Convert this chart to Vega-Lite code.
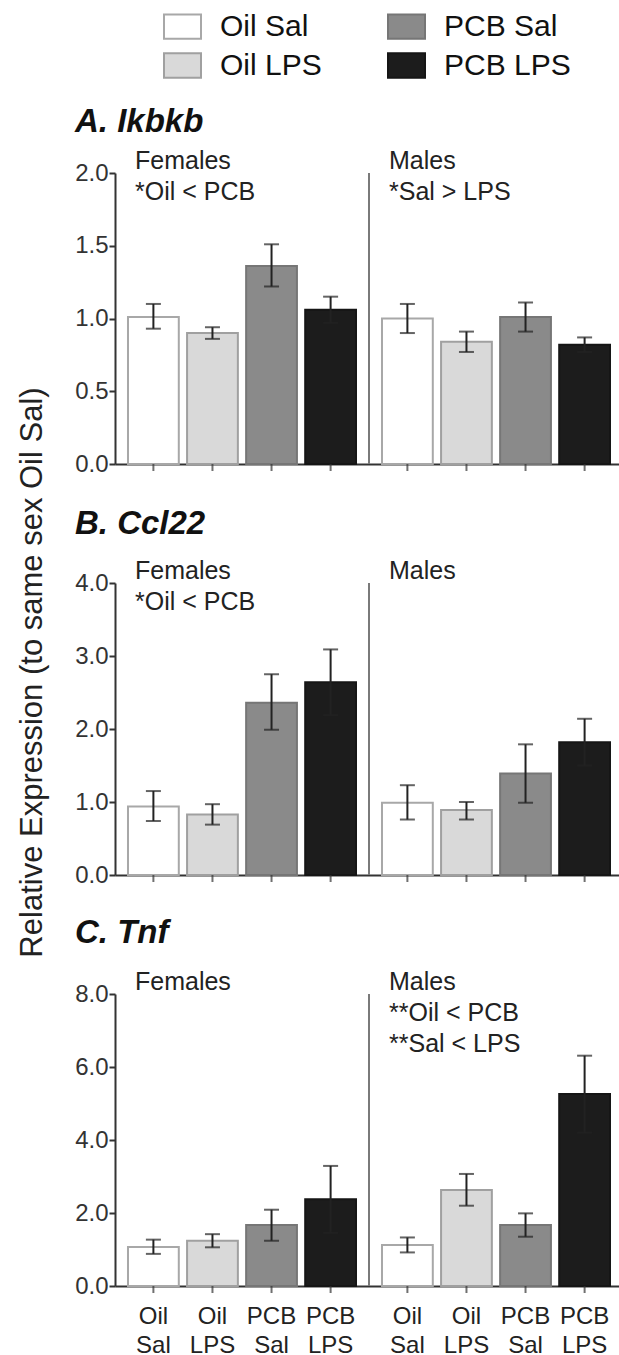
{
  "$schema": "https://vega.github.io/schema/vega-lite/v6.json",
  "padding": {"left": 15, "top": 7, "right": 0, "bottom": 0},
  "bounds": "flush",
  "spacing": 119,
  "resolve": {"scale": {"xOffset": "independent"}},
  "datasets": {
    "bars": [
      {"panel": "A", "sex": "Females", "group": "Oil Sal", "mean": 1.01, "lo": 0.93, "hi": 1.10},
      {"panel": "A", "sex": "Females", "group": "Oil LPS", "mean": 0.90, "lo": 0.86, "hi": 0.94},
      {"panel": "A", "sex": "Females", "group": "PCB Sal", "mean": 1.36, "lo": 1.22, "hi": 1.51},
      {"panel": "A", "sex": "Females", "group": "PCB LPS", "mean": 1.06, "lo": 0.97, "hi": 1.15},
      {"panel": "A", "sex": "Males", "group": "Oil Sal", "mean": 1.00, "lo": 0.90, "hi": 1.10},
      {"panel": "A", "sex": "Males", "group": "Oil LPS", "mean": 0.84, "lo": 0.77, "hi": 0.91},
      {"panel": "A", "sex": "Males", "group": "PCB Sal", "mean": 1.01, "lo": 0.91, "hi": 1.11},
      {"panel": "A", "sex": "Males", "group": "PCB LPS", "mean": 0.82, "lo": 0.77, "hi": 0.87},
      {"panel": "B", "sex": "Females", "group": "Oil Sal", "mean": 0.94, "lo": 0.74, "hi": 1.15},
      {"panel": "B", "sex": "Females", "group": "Oil LPS", "mean": 0.83, "lo": 0.69, "hi": 0.97},
      {"panel": "B", "sex": "Females", "group": "PCB Sal", "mean": 2.36, "lo": 1.99, "hi": 2.75},
      {"panel": "B", "sex": "Females", "group": "PCB LPS", "mean": 2.64, "lo": 2.19, "hi": 3.09},
      {"panel": "B", "sex": "Males", "group": "Oil Sal", "mean": 0.99, "lo": 0.76, "hi": 1.23},
      {"panel": "B", "sex": "Males", "group": "Oil LPS", "mean": 0.89, "lo": 0.76, "hi": 1.00},
      {"panel": "B", "sex": "Males", "group": "PCB Sal", "mean": 1.39, "lo": 0.99, "hi": 1.79},
      {"panel": "B", "sex": "Males", "group": "PCB LPS", "mean": 1.82, "lo": 1.50, "hi": 2.14},
      {"panel": "C", "sex": "Females", "group": "Oil Sal", "mean": 1.07, "lo": 0.88, "hi": 1.27},
      {"panel": "C", "sex": "Females", "group": "Oil LPS", "mean": 1.24, "lo": 1.06, "hi": 1.42},
      {"panel": "C", "sex": "Females", "group": "PCB Sal", "mean": 1.67, "lo": 1.24, "hi": 2.09},
      {"panel": "C", "sex": "Females", "group": "PCB LPS", "mean": 2.38, "lo": 1.46, "hi": 3.29},
      {"panel": "C", "sex": "Males", "group": "Oil Sal", "mean": 1.12, "lo": 0.92, "hi": 1.33},
      {"panel": "C", "sex": "Males", "group": "Oil LPS", "mean": 2.63, "lo": 2.20, "hi": 3.07},
      {"panel": "C", "sex": "Males", "group": "PCB Sal", "mean": 1.67, "lo": 1.35, "hi": 1.99},
      {"panel": "C", "sex": "Males", "group": "PCB LPS", "mean": 5.26, "lo": 4.20, "hi": 6.31}
    ],
    "notes": [
      {"panel": "A", "sex": "Females", "text": "Females\n*Oil < PCB"},
      {"panel": "A", "sex": "Males", "text": "Males\n*Sal > LPS"},
      {"panel": "B", "sex": "Females", "text": "Females\n*Oil < PCB"},
      {"panel": "B", "sex": "Males", "text": "Males"},
      {"panel": "C", "sex": "Females", "text": "Females"},
      {"panel": "C", "sex": "Males", "text": "Males\n**Oil < PCB\n**Sal < LPS"}
    ]
  },
  "vconcat": [
    {
      "width": 508, "height": 291,
      "title": {"text": "A. Ikbkb", "dx": -40, "offset": 10},
      "data": {"name": "bars"},
      "transform": [{"filter": "datum.panel === 'A'"}],
      "layer": [
        {"mark": {"type": "bar", "strokeWidth": 2},
         "encoding": {
           "x": {"field": "sex", "type": "nominal", "scale": {"domain": ["Females", "Males"], "paddingInner": 0, "paddingOuter": 0}, "axis": {"title": null, "labels": false, "ticks": false}},
           "xOffset": {"field": "group", "type": "nominal", "scale": {"domain": ["Oil Sal", "Oil LPS", "PCB Sal", "PCB LPS"], "paddingInner": 0.14, "paddingOuter": 0.22}},
           "y": {"field": "mean", "type": "quantitative", "scale": {"domain": [0, 2], "nice": false},
                 "axis": {"values": [0, 0.5, 1, 1.5, 2], "format": ".1f", "title": "Relative Expression (to same sex Oil Sal)", "titleFontSize": 31, "titleFontWeight": "normal", "titleColor": "#222", "titleAngle": 270, "titleX": -74, "titleY": 499, "titleAlign": "center", "titleBaseline": "alphabetic"}},
           "color": {"field": "group", "type": "nominal", "scale": {"domain": ["Oil Sal", "Oil LPS", "PCB Sal", "PCB LPS"], "range": ["#ffffff", "#d9d9d9", "#8a8a8a", "#1c1c1c"]},
                     "legend": {"title": null, "orient": "none", "legendX": 48, "legendY": -166, "columns": 2, "symbolType": "M-1,-0.66L1,-0.66L1,0.66L-1,0.66Z", "symbolSize": 1369, "symbolStrokeWidth": 2, "labelFontSize": 30, "labelColor": "#111", "labelOffset": 18, "columnPadding": 62, "rowPadding": 3, "padding": 0}},
           "stroke": {"field": "group", "type": "nominal", "scale": {"domain": ["Oil Sal", "Oil LPS", "PCB Sal", "PCB LPS"], "range": ["#a8a8a8", "#a0a0a0", "#767676", "#151515"]},
                     "legend": {"title": null, "orient": "none", "legendX": 48, "legendY": -166, "columns": 2, "symbolType": "M-1,-0.66L1,-0.66L1,0.66L-1,0.66Z", "symbolSize": 1369, "symbolStrokeWidth": 2, "labelFontSize": 30, "labelColor": "#111", "labelOffset": 18, "columnPadding": 62, "rowPadding": 3, "padding": 0}}
         }},
        {"mark": {"type": "rule", "color": "#222", "strokeWidth": 2},
         "encoding": {"x": {"field": "sex", "type": "nominal"}, "xOffset": {"field": "group", "type": "nominal"}, "y": {"field": "lo", "type": "quantitative"}, "y2": {"field": "hi"}}},
        {"mark": {"type": "tick", "orient": "horizontal", "size": 15, "thickness": 2, "color": "#222"},
         "encoding": {"x": {"field": "sex", "type": "nominal"}, "xOffset": {"field": "group", "type": "nominal"}, "y": {"field": "hi", "type": "quantitative"}}},
        {"mark": {"type": "tick", "orient": "horizontal", "size": 15, "thickness": 2, "color": "#222"},
         "encoding": {"x": {"field": "sex", "type": "nominal"}, "xOffset": {"field": "group", "type": "nominal"}, "y": {"field": "lo", "type": "quantitative"}}},
        {"mark": {"type": "tick", "orient": "vertical", "size": 7, "thickness": 2, "color": "#333", "yOffset": 3.5},
         "encoding": {"x": {"field": "sex", "type": "nominal"}, "xOffset": {"field": "group", "type": "nominal"}, "y": {"datum": 0, "type": "quantitative"}}},
        {"transform": [{"filter": "datum.sex === 'Males' && datum.group === 'Oil Sal'"}],
         "mark": {"type": "rule", "color": "#7a7a7a", "strokeWidth": 2},
         "encoding": {"x": {"field": "sex", "type": "nominal", "bandPosition": 0}}},
        {"data": {"name": "notes"}, "transform": [{"filter": "datum.panel === 'A'"}],
         "mark": {"type": "text", "align": "left", "baseline": "alphabetic", "dx": 20, "dy": -4, "lineBreak": "\n", "lineHeight": 31, "fontSize": 25, "color": "#222"},
         "encoding": {"x": {"field": "sex", "type": "nominal", "bandPosition": 0}, "y": {"datum": 2, "type": "quantitative"}, "text": {"field": "text"}}}
      ]
    },
    {
      "width": 508, "height": 292,
      "title": {"text": "B. Ccl22", "dx": -40, "offset": 18},
      "data": {"name": "bars"},
      "transform": [{"filter": "datum.panel === 'B'"}],
      "layer": [
        {"mark": {"type": "bar", "strokeWidth": 2},
         "encoding": {
           "x": {"field": "sex", "type": "nominal", "scale": {"domain": ["Females", "Males"], "paddingInner": 0, "paddingOuter": 0}, "axis": {"title": null, "labels": false, "ticks": false}},
           "xOffset": {"field": "group", "type": "nominal", "scale": {"domain": ["Oil Sal", "Oil LPS", "PCB Sal", "PCB LPS"], "paddingInner": 0.14, "paddingOuter": 0.22}},
           "y": {"field": "mean", "type": "quantitative", "scale": {"domain": [0, 4], "nice": false},
                 "axis": {"values": [0, 1, 2, 3, 4], "format": ".1f", "title": null}},
           "color": {"field": "group", "type": "nominal", "scale": {"domain": ["Oil Sal", "Oil LPS", "PCB Sal", "PCB LPS"], "range": ["#ffffff", "#d9d9d9", "#8a8a8a", "#1c1c1c"]},
                     "legend": {"title": null, "orient": "none", "legendX": 48, "legendY": -166, "columns": 2, "symbolType": "M-1,-0.66L1,-0.66L1,0.66L-1,0.66Z", "symbolSize": 1369, "symbolStrokeWidth": 2, "labelFontSize": 30, "labelColor": "#111", "labelOffset": 18, "columnPadding": 62, "rowPadding": 3, "padding": 0}},
           "stroke": {"field": "group", "type": "nominal", "scale": {"domain": ["Oil Sal", "Oil LPS", "PCB Sal", "PCB LPS"], "range": ["#a8a8a8", "#a0a0a0", "#767676", "#151515"]},
                     "legend": {"title": null, "orient": "none", "legendX": 48, "legendY": -166, "columns": 2, "symbolType": "M-1,-0.66L1,-0.66L1,0.66L-1,0.66Z", "symbolSize": 1369, "symbolStrokeWidth": 2, "labelFontSize": 30, "labelColor": "#111", "labelOffset": 18, "columnPadding": 62, "rowPadding": 3, "padding": 0}}
         }},
        {"mark": {"type": "rule", "color": "#222", "strokeWidth": 2},
         "encoding": {"x": {"field": "sex", "type": "nominal"}, "xOffset": {"field": "group", "type": "nominal"}, "y": {"field": "lo", "type": "quantitative"}, "y2": {"field": "hi"}}},
        {"mark": {"type": "tick", "orient": "horizontal", "size": 15, "thickness": 2, "color": "#222"},
         "encoding": {"x": {"field": "sex", "type": "nominal"}, "xOffset": {"field": "group", "type": "nominal"}, "y": {"field": "hi", "type": "quantitative"}}},
        {"mark": {"type": "tick", "orient": "horizontal", "size": 15, "thickness": 2, "color": "#222"},
         "encoding": {"x": {"field": "sex", "type": "nominal"}, "xOffset": {"field": "group", "type": "nominal"}, "y": {"field": "lo", "type": "quantitative"}}},
        {"mark": {"type": "tick", "orient": "vertical", "size": 7, "thickness": 2, "color": "#333", "yOffset": 3.5},
         "encoding": {"x": {"field": "sex", "type": "nominal"}, "xOffset": {"field": "group", "type": "nominal"}, "y": {"datum": 0, "type": "quantitative"}}},
        {"transform": [{"filter": "datum.sex === 'Males' && datum.group === 'Oil Sal'"}],
         "mark": {"type": "rule", "color": "#7a7a7a", "strokeWidth": 2},
         "encoding": {"x": {"field": "sex", "type": "nominal", "bandPosition": 0}}},
        {"data": {"name": "notes"}, "transform": [{"filter": "datum.panel === 'B'"}],
         "mark": {"type": "text", "align": "left", "baseline": "alphabetic", "dx": 20, "dy": -4, "lineBreak": "\n", "lineHeight": 31, "fontSize": 25, "color": "#222"},
         "encoding": {"x": {"field": "sex", "type": "nominal", "bandPosition": 0}, "y": {"datum": 4, "type": "quantitative"}, "text": {"field": "text"}}}
      ]
    },
    {
      "width": 508, "height": 292,
      "title": {"text": "C. Tnf", "dx": -40, "offset": 20},
      "data": {"name": "bars"},
      "transform": [{"filter": "datum.panel === 'C'"}],
      "layer": [
        {"mark": {"type": "bar", "strokeWidth": 2},
         "encoding": {
           "x": {"field": "sex", "type": "nominal", "scale": {"domain": ["Females", "Males"], "paddingInner": 0, "paddingOuter": 0}, "axis": {"title": null, "labels": false, "ticks": false}},
           "xOffset": {"field": "group", "type": "nominal", "scale": {"domain": ["Oil Sal", "Oil LPS", "PCB Sal", "PCB LPS"], "paddingInner": 0.14, "paddingOuter": 0.22}},
           "y": {"field": "mean", "type": "quantitative", "scale": {"domain": [0, 8], "nice": false},
                 "axis": {"values": [0, 2, 4, 6, 8], "format": ".1f", "title": null}},
           "color": {"field": "group", "type": "nominal", "scale": {"domain": ["Oil Sal", "Oil LPS", "PCB Sal", "PCB LPS"], "range": ["#ffffff", "#d9d9d9", "#8a8a8a", "#1c1c1c"]},
                     "legend": {"title": null, "orient": "none", "legendX": 48, "legendY": -166, "columns": 2, "symbolType": "M-1,-0.66L1,-0.66L1,0.66L-1,0.66Z", "symbolSize": 1369, "symbolStrokeWidth": 2, "labelFontSize": 30, "labelColor": "#111", "labelOffset": 18, "columnPadding": 62, "rowPadding": 3, "padding": 0}},
           "stroke": {"field": "group", "type": "nominal", "scale": {"domain": ["Oil Sal", "Oil LPS", "PCB Sal", "PCB LPS"], "range": ["#a8a8a8", "#a0a0a0", "#767676", "#151515"]},
                     "legend": {"title": null, "orient": "none", "legendX": 48, "legendY": -166, "columns": 2, "symbolType": "M-1,-0.66L1,-0.66L1,0.66L-1,0.66Z", "symbolSize": 1369, "symbolStrokeWidth": 2, "labelFontSize": 30, "labelColor": "#111", "labelOffset": 18, "columnPadding": 62, "rowPadding": 3, "padding": 0}}
         }},
        {"mark": {"type": "rule", "color": "#222", "strokeWidth": 2},
         "encoding": {"x": {"field": "sex", "type": "nominal"}, "xOffset": {"field": "group", "type": "nominal"}, "y": {"field": "lo", "type": "quantitative"}, "y2": {"field": "hi"}}},
        {"mark": {"type": "tick", "orient": "horizontal", "size": 15, "thickness": 2, "color": "#222"},
         "encoding": {"x": {"field": "sex", "type": "nominal"}, "xOffset": {"field": "group", "type": "nominal"}, "y": {"field": "hi", "type": "quantitative"}}},
        {"mark": {"type": "tick", "orient": "horizontal", "size": 15, "thickness": 2, "color": "#222"},
         "encoding": {"x": {"field": "sex", "type": "nominal"}, "xOffset": {"field": "group", "type": "nominal"}, "y": {"field": "lo", "type": "quantitative"}}},
        {"mark": {"type": "tick", "orient": "vertical", "size": 7, "thickness": 2, "color": "#333", "yOffset": 3.5},
         "encoding": {"x": {"field": "sex", "type": "nominal"}, "xOffset": {"field": "group", "type": "nominal"}, "y": {"datum": 0, "type": "quantitative"}}},
        {"mark": {"type": "text", "align": "center", "baseline": "alphabetic", "dy": 38, "lineBreak": " ", "lineHeight": 28.5, "fontSize": 24, "color": "#222"},
         "encoding": {"x": {"field": "sex", "type": "nominal"}, "xOffset": {"field": "group", "type": "nominal"}, "y": {"datum": 0, "type": "quantitative"}, "text": {"field": "group"}}},
        {"transform": [{"filter": "datum.sex === 'Males' && datum.group === 'Oil Sal'"}],
         "mark": {"type": "rule", "color": "#7a7a7a", "strokeWidth": 2},
         "encoding": {"x": {"field": "sex", "type": "nominal", "bandPosition": 0}}},
        {"data": {"name": "notes"}, "transform": [{"filter": "datum.panel === 'C'"}],
         "mark": {"type": "text", "align": "left", "baseline": "alphabetic", "dx": 20, "dy": -4, "lineBreak": "\n", "lineHeight": 31, "fontSize": 25, "color": "#222"},
         "encoding": {"x": {"field": "sex", "type": "nominal", "bandPosition": 0}, "y": {"datum": 8, "type": "quantitative"}, "text": {"field": "text"}}}
      ]
    }
  ],
  "config": {
    "font": "Liberation Sans",
    "view": {"stroke": null},
    "axis": {"grid": false, "domainColor": "#333", "domainWidth": 2, "tickColor": "#333", "tickWidth": 2, "tickSize": 6, "labelFontSize": 24, "labelColor": "#333", "labelPadding": 1},
    "title": {"fontSize": 33, "fontWeight": "bold", "fontStyle": "italic", "color": "#111", "baseline": "alphabetic", "anchor": "start", "frame": "group"}
  }
}
